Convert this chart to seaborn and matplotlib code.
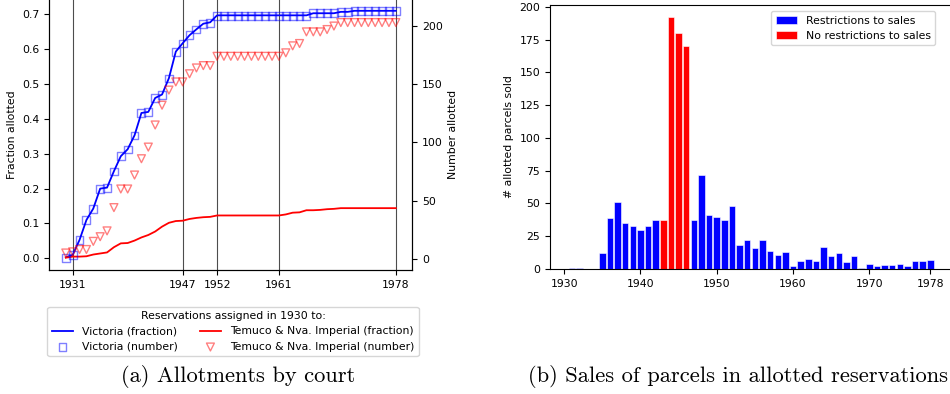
import matplotlib
matplotlib.use("Agg")
import matplotlib.pyplot as plt
import seaborn as sns
import pandas as pd

# ---------------- data ----------------
years = list(range(1930, 1979))

victoria_frac = [0.003, 0.010, 0.053, 0.110, 0.143, 0.200, 0.203, 0.250, 0.293, 0.313,
                 0.353, 0.417, 0.420, 0.460, 0.470, 0.517, 0.593, 0.617, 0.640, 0.657,
                 0.673, 0.677, 0.697, 0.697, 0.697, 0.697, 0.697, 0.697, 0.697, 0.697,
                 0.697, 0.697, 0.697, 0.697, 0.697, 0.697, 0.703, 0.703, 0.703, 0.703,
                 0.707, 0.707, 0.710, 0.710, 0.710, 0.710, 0.710, 0.710, 0.710]
victoria_num = [1, 3, 16, 33, 43, 60, 61, 75, 88, 94,
                106, 125, 126, 138, 141, 155, 178, 185, 192, 197,
                202, 203, 209, 209, 209, 209, 209, 209, 209, 209,
                209, 209, 209, 209, 209, 209, 211, 211, 211, 211,
                212, 212, 213, 213, 213, 213, 213, 213, 213]
temuco_frac = [0.002, 0.005, 0.005, 0.006, 0.011, 0.014, 0.017, 0.032, 0.043, 0.044,
               0.051, 0.060, 0.067, 0.077, 0.091, 0.102, 0.107, 0.108, 0.113, 0.116,
               0.118, 0.119, 0.123, 0.123, 0.123, 0.123, 0.123, 0.123, 0.123, 0.123,
               0.123, 0.123, 0.126, 0.131, 0.132, 0.138, 0.138, 0.139, 0.141, 0.142,
               0.144, 0.144, 0.144, 0.144, 0.144, 0.144, 0.144, 0.144, 0.144]
temuco_num = [5, 6, 8, 8, 15, 19, 24, 44, 60, 60,
              72, 86, 96, 115, 132, 145, 152, 152, 159, 164,
              166, 166, 174, 174, 174, 174, 174, 174, 174, 174,
              174, 174, 177, 183, 185, 195, 195, 195, 197, 200,
              203, 203, 203, 203, 203, 203, 203, 203, 203]
marked_years = [1931, 1947, 1952, 1961, 1978]

sale_years = list(range(1931, 1979))
parcels_sold = [1, 1, 0, 0, 12, 39, 51, 35, 33, 30,
                33, 37, 37, 192, 180, 170, 37, 72, 41, 40,
                37, 48, 18, 22, 16, 22, 14, 11, 13, 2,
                6, 8, 6, 17, 10, 12, 5, 10, 1, 4,
                2, 3, 3, 4, 2, 6, 6, 7]
unrestricted_years = [1943, 1944, 1945, 1946]
regimes = ["Restrictions to sales", "No restrictions to sales"]
sales_xticks = [1930, 1940, 1950, 1960, 1970, 1978]

# ---------------- figure ----------------
plt.rcParams["font.size"] = 7.8
W, H = 950, 394
fig = plt.figure(figsize=(W / 100, H / 100), dpi=100)

# left panel
ax = fig.add_axes([49.3 / W, 1 - 270 / H, 363 / W, 271.4 / H])
ax2 = ax.twinx()

sns.lineplot(x=years, y=victoria_frac, ax=ax, color="blue", lw=1.3, legend=False)
sns.lineplot(x=years, y=temuco_frac, ax=ax, color="red", lw=1.3, legend=False)
h_vf, h_tf = ax.get_lines()[0], ax.get_lines()[1]

sns.scatterplot(x=years, y=victoria_num, ax=ax2, marker="s", s=32,
                facecolors="none", edgecolor="blue", alpha=0.5, linewidth=1.0, legend=False)
sns.scatterplot(x=years, y=temuco_num, ax=ax2, marker="v", s=32,
                facecolors="none", edgecolor="red", alpha=0.5, linewidth=1.0, legend=False)
h_vn, h_tn = ax2.collections[0], ax2.collections[1]

for yr in marked_years:
    ax.axvline(yr, color="0.3", lw=0.8, zorder=0)

ax.set_xlim(1927.6, 1980.4)
ax.set_ylim(-0.0334, 0.745)
ax2.set_ylim(-9.6, 223.6)
ax.set_xticks(marked_years)
ax.set_yticks([0.0, 0.1, 0.2, 0.3, 0.4, 0.5, 0.6, 0.7])
ax.set_yticklabels([f"{v:.1f}" for v in [0.0, 0.1, 0.2, 0.3, 0.4, 0.5, 0.6, 0.7]])
ax2.set_yticks([0, 50, 100, 150, 200])
ax.set_ylabel("Fraction allotted")
ax2.set_ylabel("Number allotted")
ax.set_xlabel("")

leg = ax.legend([h_vf, h_vn, h_tf, h_tn],
                ["Victoria (fraction)", "Victoria (number)",
                 "Temuco & Nva. Imperial (fraction)", "Temuco & Nva. Imperial (number)"],
                ncol=2, title="Reservations assigned in 1930 to:",
                loc="upper center", bbox_to_anchor=(233 / W, 1 - 306.7 / H),
                bbox_transform=fig.transFigure, borderaxespad=0,
                fontsize=7.8, title_fontsize=7.8)

# right panel
axR = fig.add_axes([550 / W, 1 - 269 / H, 401.7 / W, 264.3 / H])
df = pd.DataFrame({"year": sale_years, "sold": parcels_sold})
df["regime"] = [regimes[1] if y in unrestricted_years else regimes[0] for y in sale_years]
sns.barplot(data=df, x="year", y="sold", hue="regime", hue_order=regimes,
            palette={regimes[0]: "blue", regimes[1]: "red"}, native_scale=True,
            dodge=False, width=0.85, saturation=1, edgecolor="white", linewidth=0.4,
            ax=axR)
axR.set_xlim(1928.15, 1980.8)
axR.set_ylim(0, 201.6)
axR.set_xticks(sales_xticks)
axR.set_xticklabels([str(v) for v in sales_xticks])
axR.set_yticks([0, 25, 50, 75, 100, 125, 150, 175, 200])
axR.set_xlabel("")
axR.set_ylabel("# allotted parcels sold")
axR.legend(loc="upper right", bbox_to_anchor=(935.3 / W, 1 - 11.3 / H),
           bbox_transform=fig.transFigure, borderaxespad=0, fontsize=7.8, title=None)

# captions
fig.text(238 / W, 1 - 376.5 / H, "(a) Allotments by court", ha="center", va="center",
         fontfamily="cmr10", fontsize=16.2)
fig.text(737.5 / W, 1 - 376.5 / H, "(b) Sales of parcels in allotted reservations",
         ha="center", va="center", fontfamily="cmr10", fontsize=16.2)

fig.savefig("out.png", dpi=100)
